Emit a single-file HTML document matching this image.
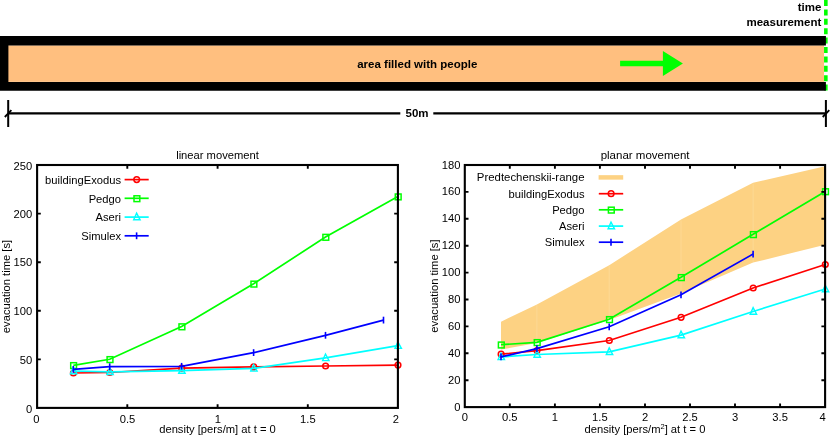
<!DOCTYPE html>
<html><head><meta charset="utf-8"><title>chart</title>
<style>
html,body{margin:0;padding:0;background:#fff;}
body{width:830px;height:436px;position:relative;overflow:hidden;font-family:"Liberation Sans",sans-serif;}
</style></head><body>
<svg width="830" height="436" viewBox="0 0 830 436" style="position:absolute;left:0;top:0;will-change:transform" font-family="Liberation Sans, sans-serif" font-size="11.2px" fill="#000">
<rect x="8" y="45.4" width="816" height="36.5" fill="#ffbf7f"/>
<path d="M825.85 0 V91.2" stroke="#00ff00" stroke-width="3.6" stroke-dasharray="6 3.4" fill="none"/>
<path d="M0 36.1 H825.9 V45.4 H8.4 V81.9 H825.9 V90.7 H0 Z" fill="#000"/>
<path d="M620.1 60.7 H662.9 V51.1 L682.9 63.5 L662.9 76.1 V66.3 H620.1 Z" fill="#00ff00"/>
<path d="M8.2 113.3 H400.3 M433.3 113.3 H825.9" stroke="#000" stroke-width="2.2" fill="none"/>
<path d="M8.2 100 V127 M825.9 100 V127" stroke="#000" stroke-width="2" fill="none"/>
<path d="M4.8 117 L11.4 110.2 M822.7 117 L829.3 110.2" stroke="#000" stroke-width="1.8" fill="none"/>
<text x="417.1" y="117.4" text-anchor="middle" font-weight="bold" font-size="11.5px">50m</text>
<text x="417.3" y="68.4" text-anchor="middle" font-weight="bold" font-size="11.5px">area filled with people</text>
<text x="821.3" y="10.9" text-anchor="end" font-weight="bold" font-size="11.5px">time</text>
<text x="821.3" y="25.9" text-anchor="end" font-weight="bold" font-size="11.5px">measurement</text>
<polyline fill="none" stroke="#ff0000" stroke-width="1.7" points="73.3,373.0 109.7,372.5 181.6,368.2 253.6,366.9 325.5,366.0 397.9,365.1"/>
<circle cx="73.4" cy="373.0" r="2.85" fill="none" stroke="#ff0000" stroke-width="1.5"/>
<circle cx="109.8" cy="372.5" r="2.85" fill="none" stroke="#ff0000" stroke-width="1.5"/>
<circle cx="181.7" cy="368.2" r="2.85" fill="none" stroke="#ff0000" stroke-width="1.5"/>
<circle cx="253.7" cy="366.9" r="2.85" fill="none" stroke="#ff0000" stroke-width="1.5"/>
<circle cx="325.6" cy="366.0" r="2.85" fill="none" stroke="#ff0000" stroke-width="1.5"/>
<circle cx="398.0" cy="365.1" r="2.85" fill="none" stroke="#ff0000" stroke-width="1.5"/>
<polyline fill="none" stroke="#00ff00" stroke-width="1.7" points="73.3,365.3 109.7,359.3 181.6,326.5 253.6,283.8 325.5,237.0 397.9,196.6"/>
<rect x="70.7" y="362.7" width="5.8" height="5.8" fill="none" stroke="#00ff00" stroke-width="1.5"/>
<rect x="107.1" y="356.7" width="5.8" height="5.8" fill="none" stroke="#00ff00" stroke-width="1.5"/>
<rect x="179.0" y="323.9" width="5.8" height="5.8" fill="none" stroke="#00ff00" stroke-width="1.5"/>
<rect x="251.0" y="281.2" width="5.8" height="5.8" fill="none" stroke="#00ff00" stroke-width="1.5"/>
<rect x="322.9" y="234.4" width="5.8" height="5.8" fill="none" stroke="#00ff00" stroke-width="1.5"/>
<rect x="395.3" y="194.0" width="5.8" height="5.8" fill="none" stroke="#00ff00" stroke-width="1.5"/>
<polyline fill="none" stroke="#00ffff" stroke-width="1.7" points="73.3,371.0 109.7,371.8 181.6,370.6 253.6,368.4 325.5,357.9 397.9,345.7"/>
<path d="M73.3 367.1 L76.8 373.7 L70.4 373.7 Z" fill="none" stroke="#00ffff" stroke-width="1.4"/>
<path d="M109.7 367.9 L113.2 374.5 L106.8 374.5 Z" fill="none" stroke="#00ffff" stroke-width="1.4"/>
<path d="M181.6 366.7 L185.1 373.3 L178.7 373.3 Z" fill="none" stroke="#00ffff" stroke-width="1.4"/>
<path d="M253.6 364.5 L257.1 371.1 L250.7 371.1 Z" fill="none" stroke="#00ffff" stroke-width="1.4"/>
<path d="M325.5 354.0 L329.0 360.6 L322.6 360.6 Z" fill="none" stroke="#00ffff" stroke-width="1.4"/>
<path d="M397.9 341.8 L401.4 348.4 L395.0 348.4 Z" fill="none" stroke="#00ffff" stroke-width="1.4"/>
<polyline fill="none" stroke="#0000ff" stroke-width="1.7" points="73.3,369.4 109.7,366.7 181.6,366.3 253.6,352.6 325.5,335.3 383.5,320.1"/>
<path d="M73.3 366.0 V372.8" fill="none" stroke="#0000ff" stroke-width="1.6"/>
<path d="M109.7 363.3 V370.1" fill="none" stroke="#0000ff" stroke-width="1.6"/>
<path d="M181.6 362.9 V369.7" fill="none" stroke="#0000ff" stroke-width="1.6"/>
<path d="M253.6 349.2 V356.0" fill="none" stroke="#0000ff" stroke-width="1.6"/>
<path d="M325.5 331.9 V338.7" fill="none" stroke="#0000ff" stroke-width="1.6"/>
<path d="M383.5 316.7 V323.5" fill="none" stroke="#0000ff" stroke-width="1.6"/>
<rect x="37.1" y="165.0" width="360.8" height="242.9" fill="none" stroke="#000" stroke-width="2.1"/>
<path d="M127.3 407.9 v-3.7 M127.3 165.0 v3.7 M217.6 407.9 v-3.7 M217.6 165.0 v3.7 M307.8 407.9 v-3.7 M307.8 165.0 v3.7 M37.1 359.4 h3.7 M397.9 359.4 h-3.7 M37.1 310.8 h3.7 M397.9 310.8 h-3.7 M37.1 262.2 h3.7 M397.9 262.2 h-3.7 M37.1 213.6 h3.7 M397.9 213.6 h-3.7" stroke="#000" stroke-width="1.9" fill="none"/>
<text x="36.4" y="422.5" text-anchor="middle">0</text>
<text x="127.5" y="422.5" text-anchor="middle">0.5</text>
<text x="217.8" y="422.5" text-anchor="middle">1</text>
<text x="307.9" y="422.5" text-anchor="middle">1.5</text>
<text x="395.8" y="422.5" text-anchor="middle">2</text>
<text x="32.2" y="413.3" text-anchor="end">0</text>
<text x="32.2" y="363.6" text-anchor="end">50</text>
<text x="32.2" y="315.0" text-anchor="end">100</text>
<text x="32.2" y="266.4" text-anchor="end">150</text>
<text x="32.2" y="217.8" text-anchor="end">200</text>
<text x="32.2" y="169.8" text-anchor="end">250</text>
<text x="217.5" y="158.6" text-anchor="middle">linear movement</text>
<text x="217.5" y="433.3" text-anchor="middle">density [pers/m] at t = 0</text>
<text transform="translate(10 286.5) rotate(-90)" text-anchor="middle">evacuation time [s]</text>
<text x="121" y="183.8" text-anchor="end">buildingExodus</text><path d="M124.6 179.6 H148.7" stroke="#ff0000" stroke-width="1.7"/><circle cx="136.7" cy="179.6" r="2.85" fill="none" stroke="#ff0000" stroke-width="1.5"/>
<text x="121" y="202.5" text-anchor="end">Pedgo</text><path d="M124.6 198.3 H148.7" stroke="#00ff00" stroke-width="1.7"/><rect x="134.0" y="195.8" width="5.8" height="5.8" fill="none" stroke="#00ff00" stroke-width="1.5"/>
<text x="121" y="221.3" text-anchor="end">Aseri</text><path d="M124.6 217.1 H148.7" stroke="#00ffff" stroke-width="1.7"/><path d="M136.6 213.2 L140.1 219.8 L133.7 219.8 Z" fill="none" stroke="#00ffff" stroke-width="1.4"/>
<text x="121" y="240.0" text-anchor="end">Simulex</text><path d="M124.6 235.8 H148.7" stroke="#0000ff" stroke-width="1.7"/><path d="M136.6 232.4 V239.2" fill="none" stroke="#0000ff" stroke-width="1.6"/>
<polygon fill="#fdd283" points="501.0,321.7 536.9,304.4 609.2,265.2 681.0,219.5 753.1,182.7 825.2,166.2 825.2,244.7 753.1,262.6 681.0,293.4 609.2,319.9 536.9,343.0 501.0,349.6"/>
<path d="M536.9 305.2 V342.2" stroke="#fedc9c" stroke-width="0.7" fill="none"/>
<path d="M609.2 266.0 V319.1" stroke="#fedc9c" stroke-width="0.7" fill="none"/>
<path d="M681.0 220.3 V292.6" stroke="#fedc9c" stroke-width="0.7" fill="none"/>
<path d="M753.1 183.5 V261.8" stroke="#fedc9c" stroke-width="0.7" fill="none"/>
<polyline fill="none" stroke="#ff0000" stroke-width="1.7" points="501.0,354.2 536.9,350.6 609.2,340.5 681.0,317.3 753.1,288.0 825.2,264.5"/>
<circle cx="501.1" cy="354.2" r="2.85" fill="none" stroke="#ff0000" stroke-width="1.5"/>
<circle cx="537.0" cy="350.6" r="2.85" fill="none" stroke="#ff0000" stroke-width="1.5"/>
<circle cx="609.3" cy="340.5" r="2.85" fill="none" stroke="#ff0000" stroke-width="1.5"/>
<circle cx="681.1" cy="317.3" r="2.85" fill="none" stroke="#ff0000" stroke-width="1.5"/>
<circle cx="753.2" cy="288.0" r="2.85" fill="none" stroke="#ff0000" stroke-width="1.5"/>
<circle cx="825.3" cy="264.5" r="2.85" fill="none" stroke="#ff0000" stroke-width="1.5"/>
<polyline fill="none" stroke="#00ff00" stroke-width="1.7" points="501.0,344.7 536.9,342.3 609.2,319.3 681.0,277.3 753.1,234.3 825.2,191.4"/>
<rect x="498.4" y="342.1" width="5.8" height="5.8" fill="none" stroke="#00ff00" stroke-width="1.5"/>
<rect x="534.3" y="339.7" width="5.8" height="5.8" fill="none" stroke="#00ff00" stroke-width="1.5"/>
<rect x="606.6" y="316.7" width="5.8" height="5.8" fill="none" stroke="#00ff00" stroke-width="1.5"/>
<rect x="678.4" y="274.7" width="5.8" height="5.8" fill="none" stroke="#00ff00" stroke-width="1.5"/>
<rect x="750.5" y="231.7" width="5.8" height="5.8" fill="none" stroke="#00ff00" stroke-width="1.5"/>
<rect x="822.6" y="188.8" width="5.8" height="5.8" fill="none" stroke="#00ff00" stroke-width="1.5"/>
<polyline fill="none" stroke="#00ffff" stroke-width="1.7" points="501.0,356.9 536.9,354.5 609.2,351.8 681.0,335.1 753.1,311.5 825.2,289.0"/>
<path d="M501.0 353.0 L504.5 359.6 L498.1 359.6 Z" fill="none" stroke="#00ffff" stroke-width="1.4"/>
<path d="M536.9 350.6 L540.4 357.2 L534.0 357.2 Z" fill="none" stroke="#00ffff" stroke-width="1.4"/>
<path d="M609.2 347.9 L612.7 354.5 L606.3 354.5 Z" fill="none" stroke="#00ffff" stroke-width="1.4"/>
<path d="M681.0 331.2 L684.5 337.8 L678.1 337.8 Z" fill="none" stroke="#00ffff" stroke-width="1.4"/>
<path d="M753.1 307.6 L756.6 314.2 L750.2 314.2 Z" fill="none" stroke="#00ffff" stroke-width="1.4"/>
<path d="M825.2 285.1 L828.7 291.7 L822.3 291.7 Z" fill="none" stroke="#00ffff" stroke-width="1.4"/>
<polyline fill="none" stroke="#0000ff" stroke-width="1.7" points="501.0,356.9 536.9,348.6 609.2,326.8 681.0,294.8 753.1,254.1"/>
<path d="M501.0 353.5 V360.3" fill="none" stroke="#0000ff" stroke-width="1.6"/>
<path d="M536.9 345.2 V352.0" fill="none" stroke="#0000ff" stroke-width="1.6"/>
<path d="M609.2 323.4 V330.2" fill="none" stroke="#0000ff" stroke-width="1.6"/>
<path d="M681.0 291.4 V298.2" fill="none" stroke="#0000ff" stroke-width="1.6"/>
<path d="M753.1 250.7 V257.5" fill="none" stroke="#0000ff" stroke-width="1.6"/>
<rect x="464.8" y="165.0" width="360.3" height="242.1" fill="none" stroke="#000" stroke-width="2.1"/>
<path d="M509.8 407.1 v-3.7 M509.8 165.0 v3.7 M554.9 407.1 v-3.7 M554.9 165.0 v3.7 M599.9 407.1 v-3.7 M599.9 165.0 v3.7 M645.0 407.1 v-3.7 M645.0 165.0 v3.7 M690.0 407.1 v-3.7 M690.0 165.0 v3.7 M735.0 407.1 v-3.7 M735.0 165.0 v3.7 M780.1 407.1 v-3.7 M780.1 165.0 v3.7 M464.8 380.2 h3.7 M825.1 380.2 h-3.7 M464.8 353.3 h3.7 M825.1 353.3 h-3.7 M464.8 326.4 h3.7 M825.1 326.4 h-3.7 M464.8 299.5 h3.7 M825.1 299.5 h-3.7 M464.8 272.6 h3.7 M825.1 272.6 h-3.7 M464.8 245.7 h3.7 M825.1 245.7 h-3.7 M464.8 218.8 h3.7 M825.1 218.8 h-3.7 M464.8 191.9 h3.7 M825.1 191.9 h-3.7" stroke="#000" stroke-width="1.9" fill="none"/>
<text x="464.8" y="421.3" text-anchor="middle">0</text>
<text x="509.8" y="421.3" text-anchor="middle">0.5</text>
<text x="554.9" y="421.3" text-anchor="middle">1</text>
<text x="599.9" y="421.3" text-anchor="middle">1.5</text>
<text x="645.0" y="421.3" text-anchor="middle">2</text>
<text x="690.0" y="421.3" text-anchor="middle">2.5</text>
<text x="735.0" y="421.3" text-anchor="middle">3</text>
<text x="780.1" y="421.3" text-anchor="middle">3.5</text>
<text x="822.5" y="421.3" text-anchor="middle">4</text>
<text x="460.5" y="410.6" text-anchor="end">0</text>
<text x="460.5" y="383.7" text-anchor="end">20</text>
<text x="460.5" y="356.8" text-anchor="end">40</text>
<text x="460.5" y="329.9" text-anchor="end">60</text>
<text x="460.5" y="303.0" text-anchor="end">80</text>
<text x="460.5" y="276.1" text-anchor="end">100</text>
<text x="460.5" y="249.2" text-anchor="end">120</text>
<text x="460.5" y="222.3" text-anchor="end">140</text>
<text x="460.5" y="195.4" text-anchor="end">160</text>
<text x="460.5" y="168.5" text-anchor="end">180</text>
<text x="645.1" y="158.6" text-anchor="middle" font-size="11.5px">planar movement</text>
<text x="645.0" y="433" text-anchor="middle">density [pers/m<tspan font-size="7.5px" dy="-4">2</tspan><tspan dy="4">] at t = 0</tspan></text>
<text transform="translate(438.1 286.1) rotate(-90)" text-anchor="middle">evacuation time [s]</text>
<text x="584.5" y="181.3" text-anchor="end" font-size="11.4px">Predtechenskii-range</text>
<path d="M598.6 177.4 H623.2" stroke="#fdd283" stroke-width="4.5"/>
<text x="584.5" y="197.8" text-anchor="end">buildingExodus</text><path d="M598.8 193.7 H623.2" stroke="#ff0000" stroke-width="1.7"/><circle cx="611.1" cy="193.7" r="2.85" fill="none" stroke="#ff0000" stroke-width="1.5"/>
<text x="584.5" y="214.0" text-anchor="end">Pedgo</text><path d="M598.8 209.8 H623.2" stroke="#00ff00" stroke-width="1.7"/><rect x="608.4" y="207.2" width="5.8" height="5.8" fill="none" stroke="#00ff00" stroke-width="1.5"/>
<text x="584.5" y="230.2" text-anchor="end">Aseri</text><path d="M598.8 226.1 H623.2" stroke="#00ffff" stroke-width="1.7"/><path d="M611.0 222.2 L614.5 228.8 L608.1 228.8 Z" fill="none" stroke="#00ffff" stroke-width="1.4"/>
<text x="584.5" y="246.4" text-anchor="end">Simulex</text><path d="M598.8 242.2 H623.2" stroke="#0000ff" stroke-width="1.7"/><path d="M611.0 238.8 V245.7" fill="none" stroke="#0000ff" stroke-width="1.6"/>
</svg>
</body></html>
